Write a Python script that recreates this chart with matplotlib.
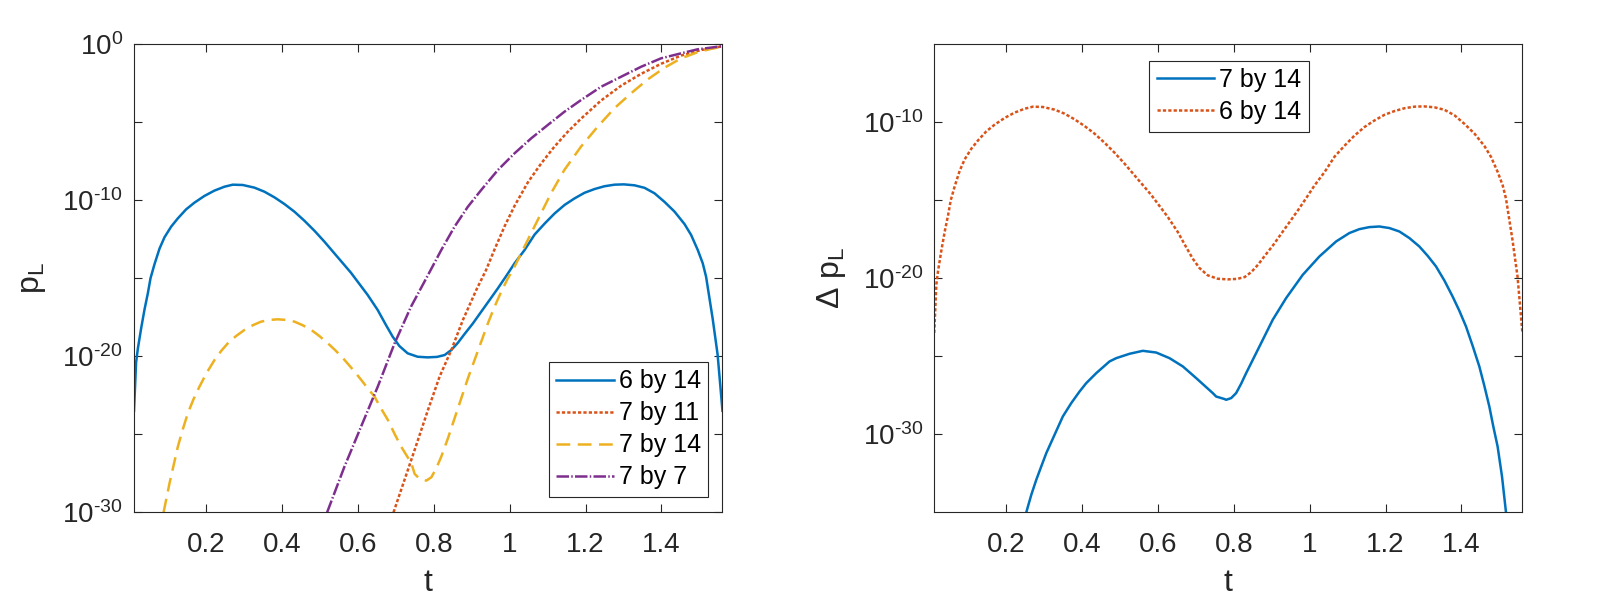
import numpy as np
import matplotlib
matplotlib.use("Agg")
import matplotlib.pyplot as plt
from matplotlib.ticker import FixedLocator, NullFormatter, FixedFormatter

plt.rcParams['font.family'] = ['Liberation Sans', 'DejaVu Sans']
plt.rcParams['mathtext.fontset'] = 'custom'
plt.rcParams['mathtext.rm'] = 'Liberation Sans'
plt.rcParams['mathtext.it'] = 'Liberation Sans:italic'
plt.rcParams['mathtext.default'] = 'regular'

# ---------------- data (t, log10 of value) ----------------
# 6 by 14 (left panel p_L; the same curve is the right panel's 6 by 14)
t_6by14 = [0.0100, 0.0155, 0.0202, 0.0289, 0.0377, 0.0465, 0.0535, 0.0640, 0.0772, 0.0904,
           0.1079, 0.1255, 0.1474, 0.1694, 0.1957, 0.2220, 0.2484, 0.2703, 0.2966, 0.3274,
           0.3537, 0.3800, 0.4064, 0.4327, 0.4590, 0.4854, 0.5117, 0.5380, 0.5644, 0.5819,
           0.5995, 0.6258, 0.6521, 0.6741, 0.6916, 0.7092, 0.7311, 0.7575, 0.7838, 0.8086,
           0.8286, 0.8461, 0.8637, 0.8812, 0.9032, 0.9251, 0.9471, 0.9690, 0.9910, 1.0129,
           1.0392, 1.0656, 1.0919, 1.1182, 1.1446, 1.1709, 1.1972, 1.2236, 1.2499, 1.2762,
           1.3008, 1.3289, 1.3552, 1.3816, 1.4079, 1.4342, 1.4606, 1.4781, 1.4957, 1.5088,
           1.5176, 1.5350, 1.5480, 1.5608]
lg_6by14 = [-23.5, -20.4, -19.5, -18.2, -17.0, -15.96, -15.0, -14.1, -13.1, -12.37,
            -11.69, -11.16, -10.58, -10.15, -9.72, -9.38, -9.13, -9.0, -9.02, -9.19,
            -9.45, -9.81, -10.24, -10.73, -11.31, -11.95, -12.65, -13.4, -14.15, -14.65,
            -15.22, -16.07, -17.03, -18.0, -18.74, -19.34, -19.81, -20.03, -20.07, -20.04,
            -19.92, -19.6, -19.13, -18.57, -17.89, -17.14, -16.39, -15.64, -14.85, -14.04,
            -13.19, -12.2, -11.5, -10.85, -10.3, -9.88, -9.52, -9.28, -9.1, -9.0,
            -8.98, -9.04, -9.2, -9.55, -10.1, -10.72, -11.52, -12.22, -13.19, -14.04,
            -14.9, -17.6, -19.9, -23.5]

# 7 by 11 (left panel)
t_7by11 = [0.694, 0.7496, 0.7847, 0.8154, 0.8462, 0.8768, 0.912, 0.938, 0.9603, 0.9866,
           1.0128, 1.048, 1.083, 1.118, 1.153, 1.188, 1.241, 1.294, 1.346, 1.399,
           1.452, 1.504, 1.5608]
lg_7by11 = [-30.0, -26.0, -23.44, -21.3, -19.6, -17.67, -15.75, -14.46, -13.14, -11.67,
            -10.36, -8.85, -7.64, -6.56, -5.61, -4.77, -3.6, -2.65, -1.9, -1.25,
            -0.72, -0.37, -0.13]

# 7 by 14 (left panel)
t_7by14 = [0.088, 0.1036, 0.1256, 0.1386, 0.1519, 0.1667, 0.1826, 0.2018, 0.2221, 0.2396,
           0.2572, 0.2791, 0.3011, 0.3230, 0.345, 0.3669, 0.389, 0.4107, 0.433, 0.4546,
           0.477, 0.4985, 0.521, 0.5424, 0.565, 0.5863, 0.609, 0.6258, 0.644, 0.6609,
           0.679, 0.696, 0.714, 0.741, 0.7496, 0.7628, 0.7803, 0.7935, 0.8066, 0.8198,
           0.8373, 0.8549, 0.8725, 0.8900, 0.9075, 0.9251, 0.9426, 0.9602, 0.9777, 0.9953,
           1.0085, 1.039, 1.074, 1.109, 1.144, 1.188, 1.232, 1.276, 1.320, 1.364,
           1.408, 1.452, 1.496, 1.530, 1.5608]
lg_7by14 = [-30.0, -28.14, -25.79, -24.68, -23.65, -22.76, -21.94, -21.05, -20.24, -19.66,
            -19.17, -18.7, -18.31, -18.01, -17.78, -17.67, -17.63, -17.67, -17.78, -18.01,
            -18.31, -18.7, -19.17, -19.66, -20.24, -20.84, -21.52, -22.05, -22.59, -23.34,
            -24.08, -24.94, -25.79, -26.86, -27.54, -27.86, -27.97, -27.76, -27.18, -26.43,
            -25.26, -23.97, -22.69, -21.41, -20.24, -19.06, -17.89, -16.82, -15.86, -15.0,
            -14.47, -12.97, -11.26, -9.55, -8.06, -6.56, -5.28, -4.10, -3.14, -2.25,
            -1.50, -0.90, -0.50, -0.30, -0.15]

# 7 by 7 (left panel)
t_7by7 = [0.519, 0.5645, 0.6084, 0.6523, 0.6962, 0.740, 0.7846, 0.8197, 0.8548, 0.8899,
          0.925, 0.9689, 1.0128, 1.0567, 1.1006, 1.1445, 1.1884, 1.2411, 1.2937, 1.3464,
          1.399, 1.4517, 1.4956, 1.5608]
lg_7by7 = [-30.0, -27.08, -24.51, -21.95, -19.2, -16.82, -14.8, -13.19, -11.69, -10.41,
           -9.34, -8.06, -6.99, -6.03, -5.17, -4.32, -3.57, -2.72, -2.08, -1.44,
           -0.90, -0.58, -0.32, -0.12]

# Delta p_L, 7 by 14 (right panel)
t_d7by14 = [0.2527, 0.2659, 0.2790, 0.2922, 0.3054, 0.3273, 0.3490, 0.3713, 0.3931, 0.4108,
            0.4372, 0.4722, 0.4899, 0.5249, 0.5600, 0.5953, 0.6303, 0.6654, 0.7007, 0.7444,
            0.7533, 0.7752, 0.7797, 0.7929, 0.8060, 0.8192, 0.8324, 0.8675, 0.9025, 0.9378,
            0.9816, 1.0256, 1.0696, 1.1046, 1.1310, 1.1573, 1.1837, 1.2100, 1.2364, 1.2627,
            1.2890, 1.3110, 1.3330, 1.3550, 1.3768, 1.3945, 1.4121, 1.4296, 1.4472, 1.4604,
            1.4736, 1.4841, 1.4954, 1.5070, 1.5175]
lg_d7by14 = [-35.0, -33.88, -32.92, -32.06, -31.21, -30.03, -28.86, -28.0, -27.26, -26.72,
             -26.08, -25.33, -25.12, -24.84, -24.65, -24.76, -25.12, -25.65, -26.4, -27.36,
             -27.58, -27.74, -27.79, -27.68, -27.36, -26.76, -26.08, -24.37, -22.66, -21.27,
             -19.78, -18.6, -17.64, -17.1, -16.85, -16.72, -16.68, -16.78, -17.0, -17.42,
             -17.96, -18.56, -19.24, -20.14, -21.17, -22.08, -23.09, -24.33, -25.65, -26.89,
             -28.22, -29.5, -30.78, -32.7, -35.0]

xticks = [0.2, 0.4, 0.6, 0.8, 1.0, 1.2, 1.4]
xticklabels = ['0.2', '0.4', '0.6', '0.8', '1', '1.2', '1.4']

C_BLUE = '#0072BD'
C_ORANGE = '#D95319'
C_YELLOW = '#EDB120'
C_PURPLE = '#7E2F8E'
AXC = '#262626'

LW = 1.8
FS_TICK = 20
FS_YTICK = 20
FS_LEG = 18
FS_LAB = 23

fig = plt.figure(figsize=(16, 6), dpi=100)
axL = fig.add_axes([0.08375, 0.1462, 0.3678, 0.780])
axR = fig.add_axes([0.5839, 0.1462, 0.3676, 0.780])


def p(lg):
    return 10.0 ** np.array(lg)


DOT = (0, (1.3, 0.85))
DASH = (0, (5.5, 3.0))
DASHDOT = (0, (5.0, 0.9, 0.6, 0.9))

axL.plot(t_6by14, p(lg_6by14), color=C_BLUE, lw=LW, ls='-', label='6 by 14')
axL.plot(t_7by11, p(lg_7by11), color=C_ORANGE, lw=LW, ls=DOT, label='7 by 11')
axL.plot(t_7by14, p(lg_7by14), color=C_YELLOW, lw=LW, ls=DASH, label='7 by 14')
axL.plot(t_7by7, p(lg_7by7), color=C_PURPLE, lw=LW, ls=DASHDOT, label='7 by 7')

axR.plot(t_d7by14, p(lg_d7by14), color=C_BLUE, lw=LW, ls='-', label='7 by 14')
axR.plot(t_6by14, p(lg_6by14), color=C_ORANGE, lw=LW, ls=DOT, label='6 by 14')

for ax in (axL, axR):
    ax.set_yscale('log')
    ax.set_xlim(0.01, np.pi / 2 - 0.01)
    ax.xaxis.set_major_locator(FixedLocator(xticks))
    ax.xaxis.set_major_formatter(FixedFormatter(xticklabels))
    ax.tick_params(axis='both', which='both', direction='in', top=True, right=True,
                   color=AXC, labelcolor=AXC, width=0.8, length=6)
    ax.tick_params(axis='x', which='major', pad=14, labelsize=FS_TICK)
    ax.tick_params(axis='y', which='major', pad=8, labelsize=FS_YTICK)
    for s in ax.spines.values():
        s.set_color(AXC)
        s.set_linewidth(0.8)
    ax.set_xlabel('t', fontsize=FS_LAB, color=AXC)
    ax.xaxis.set_label_coords(0.5, -0.118)


def ylab(e):
    return r'$10^{\text{' + str(e) + '}}$' if e < 0 else r'$10^{' + str(e) + '}$'


axL.set_ylim(1e-30, 1e0)
axL.yaxis.set_major_locator(FixedLocator([1e-30, 1e-20, 1e-10, 1e0]))
axL.yaxis.set_major_formatter(FixedFormatter([ylab(-30), ylab(-20), ylab(-10), ylab(0)]))
axL.yaxis.set_minor_locator(FixedLocator([1e-25, 1e-15, 1e-5]))
axL.yaxis.set_minor_formatter(NullFormatter())
axL.set_ylabel(r'$p_L$', fontsize=FS_LAB, color=AXC)
axL.yaxis.set_label_coords(-0.146, 0.5)

axR.set_ylim(1e-35, 1e-5)
axR.yaxis.set_major_locator(FixedLocator([1e-30, 1e-20, 1e-10]))
axR.yaxis.set_major_formatter(FixedFormatter([ylab(-30), ylab(-20), ylab(-10)]))
axR.yaxis.set_minor_locator(FixedLocator([1e-25, 1e-15]))
axR.yaxis.set_minor_formatter(NullFormatter())
axR.set_ylabel('Δ ' + r'$p_L$', fontsize=FS_LAB, color=AXC)
axR.yaxis.set_label_coords(-0.146, 0.5)

legkw = dict(fontsize=FS_LEG, frameon=True, fancybox=False, framealpha=1, edgecolor='#262626',
             handlelength=2.3, handletextpad=0.2, borderpad=0.3, labelspacing=0.32,
             borderaxespad=0)
legL = axL.legend(loc='lower right', bbox_to_anchor=(0.976, 0.033), **legkw)
legR = axR.legend(loc='upper center', bbox_to_anchor=(0.5015, 0.965), **legkw)
for lg in (legL, legR):
    lg.get_frame().set_linewidth(0.8)

fig.savefig('out.png', dpi=100)
